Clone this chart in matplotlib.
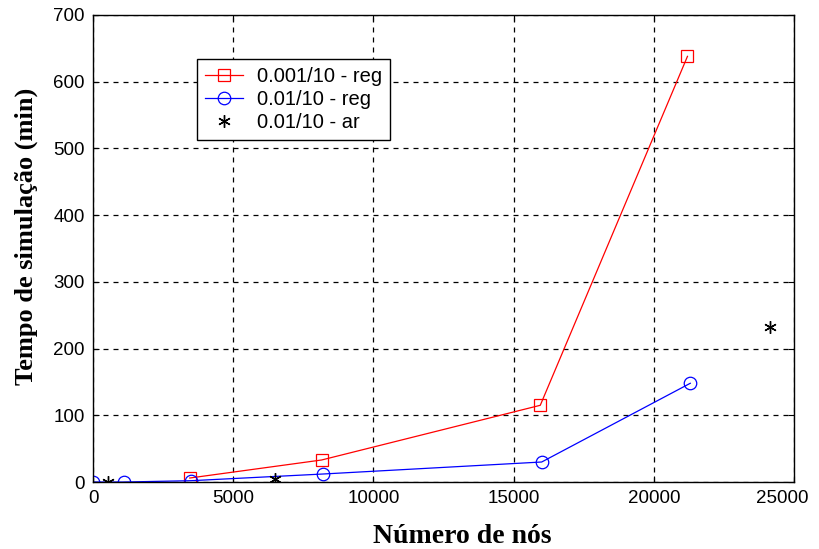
import matplotlib
matplotlib.use("Agg")
import matplotlib.pyplot as plt
from matplotlib.transforms import ScaledTranslation

# data
x_red = [3450, 8150, 15950, 21200]
y_red = [6, 33, 115, 638]

x_blue = [0, 1100, 3500, 8200, 16000, 21300]
y_blue = [0, 0, 2, 12, 30, 148]

x_star = [550, 6500, 24150]
y_star = [0, 4, 232]

legend_labels = ["0.001/10 - reg", "0.01/10 - reg", "0.01/10 - ar"]

fig = plt.figure(figsize=(8.19, 5.49), dpi=100)
ax = fig.add_axes([0.1136, 0.122, 0.8559, 0.8507])

ax.plot(x_red, y_red, color="red", lw=0.9, marker="s", ms=9,
        mfc="none", mec="red", mew=0.9, label=legend_labels[0])
ax.plot(x_blue, y_blue, color="blue", lw=0.9, marker="o", ms=9,
        mfc="none", mec="blue", mew=0.9, label=legend_labels[1])
ax.plot(x_star, y_star, ls="none", color="black", marker=(6, 2, 0), ms=9,
        mew=1.0, label=legend_labels[2])

ax.set_xlim(0, 25000)
ax.set_ylim(0, 700)
ax.set_xticks(range(0, 25001, 5000))
ax.set_yticks(range(0, 701, 100))
ax.grid(True, color="black", ls=(0, (4, 4)), lw=0.9)
ax.tick_params(direction="in", top=True, right=True, length=4,
               labelsize=13.5, pad=6)
for lbl in ax.get_xticklabels() + ax.get_yticklabels():
    lbl.set_family("Liberation Sans")
# last x label sits a bit to the left, as in the original
last = ax.get_xticklabels()[-1]
last.set_transform(last.get_transform() +
                   ScaledTranslation(-12 / 100, 0, fig.dpi_scale_trans))
for s in ax.spines.values():
    s.set_linewidth(1.0)

ax.set_xlabel("Número de nós", family="Liberation Serif", weight="bold",
              fontsize=20)
ax.xaxis.set_label_coords(0.527, -0.09)
ax.set_ylabel("Tempo de simulação (min)", family="Liberation Serif",
              weight="bold", fontsize=19)
ax.yaxis.set_label_coords(-0.078, 0.525)

leg = ax.legend(loc="upper left", bbox_to_anchor=(0.148, 0.906),
                borderaxespad=0, fancybox=False, edgecolor="black",
                framealpha=1, prop={"family": "Liberation Sans", "size": 14.5},
                handlelength=1.9, handletextpad=0.7, labelspacing=0.2,
                borderpad=0.4)
leg.get_frame().set_linewidth(1.0)

fig.savefig("out.png", dpi=100)
